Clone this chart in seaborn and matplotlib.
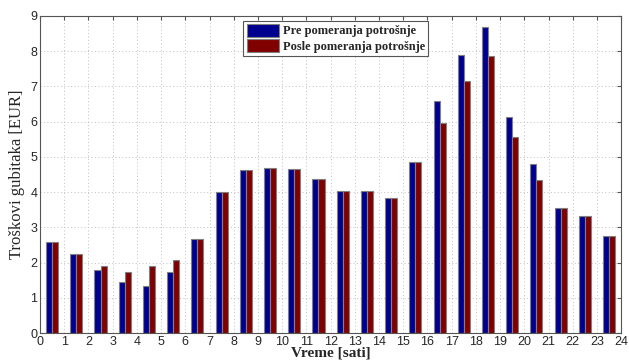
import numpy as np
import pandas as pd
import matplotlib
matplotlib.use("Agg")
import matplotlib.pyplot as plt
import seaborn as sns

hours = [h + 0.5 for h in range(24)]
pre = [2.60, 2.25, 1.80, 1.45, 1.33, 1.73, 2.67, 4.00, 4.63, 4.70, 4.67, 4.37,
       4.03, 4.03, 3.83, 4.87, 6.58, 7.88, 8.68, 6.13, 4.79, 3.55, 3.33, 2.75]
posle = [2.60, 2.25, 1.90, 1.75, 1.90, 2.08, 2.67, 4.00, 4.63, 4.70, 4.67, 4.37,
         4.03, 4.03, 3.83, 4.87, 5.97, 7.15, 7.86, 5.56, 4.35, 3.55, 3.33, 2.75]
series_names = ["Pre pomeranja potrošnje", "Posle pomeranja potrošnje"]
colors = ["#000090", "#800000"]
xticks = list(range(0, 25))
yticks = list(range(0, 10))

df = pd.DataFrame({
    "hour": hours * 2,
    "value": pre + posle,
    "series": [series_names[0]] * 24 + [series_names[1]] * 24,
})

sns.set_style("white")
plt.rcParams["font.family"] = ["Liberation Sans", "DejaVu Sans"]

fig = plt.figure(figsize=(6.29, 3.63), dpi=100)
ax = fig.add_axes([0.0636, 0.082, 0.924, 0.874])

sns.barplot(data=df, x="hour", y="value", hue="series", native_scale=True,
            palette=colors, width=0.5, edgecolor="#808080", linewidth=0.8,
            saturation=1, ax=ax, errorbar=None)

ax.set_xlim(0, 24)
ax.set_ylim(0, 9)
ax.set_xticks(xticks)
ax.set_yticks(yticks)
ax.set_xticklabels([str(t) for t in xticks], fontsize=9)
ax.set_yticklabels([str(t) for t in yticks], fontsize=9)
ax.grid(True, linestyle=(0, (1, 2.5)), color="#c0c0c0", linewidth=0.7)
ax.set_axisbelow(True)
ax.tick_params(direction="in", length=3, top=True, right=True, pad=2, color="#555555")
for s in ax.spines.values():
    s.set_color("#555555")
    s.set_linewidth(0.8)

ax.set_xlabel("Vreme [sati]", family=["Liberation Serif"], fontsize=11, fontweight="bold", labelpad=-1)
ax.set_ylabel("Troškovi gubitaka [EUR]", family=["Liberation Serif"], fontsize=12, labelpad=4)

leg = ax.legend(loc="upper left", bbox_to_anchor=(0.35, 0.985), frameon=True, fancybox=False,
                edgecolor="#555555", framealpha=1,
                prop={"family": "Liberation Serif", "weight": "bold", "size": 9},
                handlelength=2.6, handleheight=1.2, handletextpad=0.3,
                borderpad=0.25, labelspacing=0.15, borderaxespad=0)
leg.get_frame().set_linewidth(0.8)

fig.savefig("out.png", dpi=100)
